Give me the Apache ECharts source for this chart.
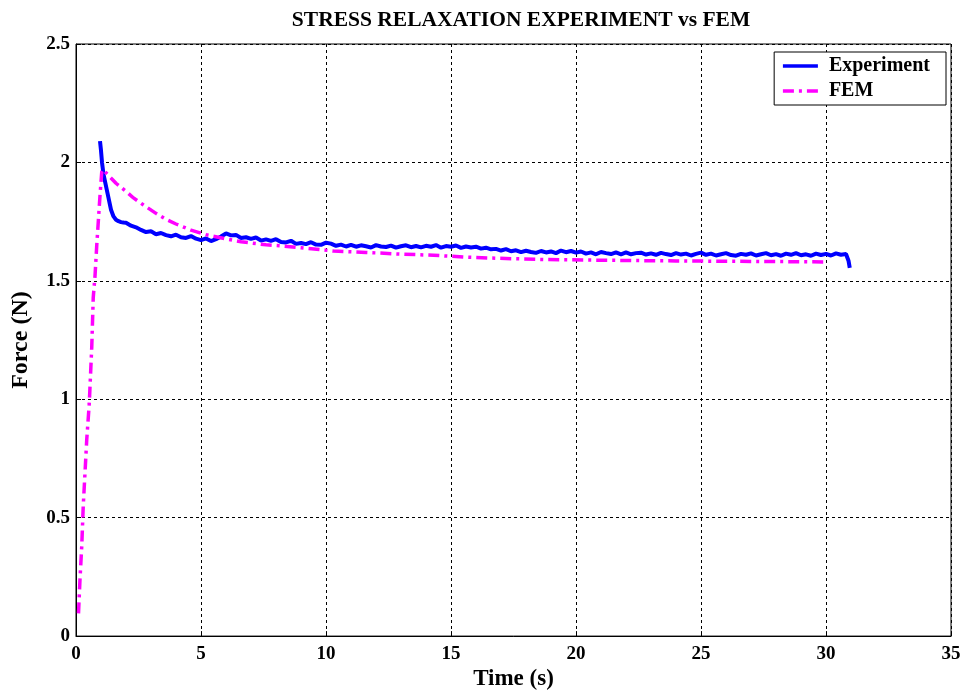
<!DOCTYPE html>
<html>
<head>
<meta charset="utf-8">
<script src="https://cdn.jsdelivr.net/npm/echarts@6/dist/echarts.min.js"></script>
<style>html,body{margin:0;padding:0;background:#fff;}#chart{width:966px;height:696px;}</style>
</head>
<body>
<div id="chart"></div>
<script>
const titleText = 'STRESS RELAXATION EXPERIMENT vs FEM';
const xTicks = [0, 5, 10, 15, 20, 25, 30, 35];
const yTicks = [0, 0.5, 1, 1.5, 2, 2.5];

const expTime = [
  0.96, 1.0, 1.04, 1.1, 1.2, 1.3, 1.4, 1.5, 1.6, 1.7, 1.8, 1.9,
  2.0, 2.2, 2.4, 2.6, 2.8,
  3.0, 3.2, 3.4, 3.6, 3.8,
  4.0, 4.2, 4.4, 4.6, 4.8,
  5.0, 5.2, 5.4, 5.6, 5.8,
  6.0, 6.2, 6.4, 6.6, 6.8,
  7.0, 7.2, 7.4, 7.6, 7.8,
  8.0, 8.2, 8.4, 8.6, 8.8,
  9.0, 9.2, 9.4, 9.6, 9.8,
  10.0, 10.2, 10.4, 10.6, 10.8,
  11.0, 11.2, 11.4, 11.6, 11.8,
  12.0, 12.2, 12.4, 12.6, 12.8,
  13.0, 13.2, 13.4, 13.6, 13.8,
  14.0, 14.2, 14.4, 14.6, 14.8,
  15.0, 15.2, 15.4, 15.6, 15.8,
  16.0, 16.2, 16.4, 16.6, 16.8,
  17.0, 17.2, 17.4, 17.6, 17.8,
  18.0, 18.2, 18.4, 18.6, 18.8,
  19.0, 19.2, 19.4, 19.6, 19.8,
  20.0, 20.2, 20.4, 20.6, 20.8,
  21.0, 21.2, 21.4, 21.6, 21.8,
  22.0, 22.2, 22.4, 22.6, 22.8,
  23.0, 23.2, 23.4, 23.6, 23.8,
  24.0, 24.2, 24.4, 24.6, 24.8,
  25.0, 25.2, 25.4, 25.6, 25.8,
  26.0, 26.2, 26.4, 26.6, 26.8,
  27.0, 27.2, 27.4, 27.6, 27.8,
  28.0, 28.2, 28.4, 28.6, 28.8,
  29.0, 29.2, 29.4, 29.6, 29.8,
  30.0, 30.2, 30.4, 30.6, 30.8,
  30.9, 30.95];
const expForce = [
  2.09, 2.05, 2.0, 1.95, 1.90, 1.85, 1.80, 1.772, 1.758, 1.752, 1.748, 1.746,
  1.745, 1.733, 1.726, 1.715, 1.706,
  1.709, 1.697, 1.702, 1.693, 1.688,
  1.695, 1.684, 1.681, 1.689, 1.678,
  1.672, 1.679, 1.668, 1.676, 1.687,
  1.700, 1.692, 1.694, 1.681, 1.684,
  1.677, 1.683, 1.670, 1.675, 1.669,
  1.676, 1.664, 1.662, 1.669, 1.656,
  1.660, 1.655, 1.663, 1.653, 1.652,
  1.661, 1.657, 1.648, 1.653, 1.645,
  1.652, 1.644, 1.650, 1.646, 1.641,
  1.651, 1.645, 1.643, 1.649, 1.640,
  1.646, 1.650, 1.642, 1.647, 1.641,
  1.648, 1.644, 1.651, 1.640, 1.647,
  1.644, 1.649, 1.639, 1.645, 1.641,
  1.644, 1.636, 1.640, 1.633, 1.635,
  1.628, 1.634, 1.625, 1.629, 1.621,
  1.627, 1.622, 1.618, 1.626, 1.620,
  1.624, 1.617, 1.628, 1.621, 1.626,
  1.619, 1.624, 1.615, 1.620, 1.612,
  1.622, 1.617, 1.613, 1.620, 1.612,
  1.620, 1.612, 1.617, 1.619, 1.611,
  1.616, 1.610, 1.618, 1.613, 1.609,
  1.617, 1.611, 1.615, 1.607, 1.614,
  1.619, 1.610, 1.615, 1.607, 1.612,
  1.617, 1.609, 1.606, 1.614, 1.610,
  1.616, 1.607, 1.612, 1.617, 1.608,
  1.613, 1.606, 1.615, 1.610, 1.617,
  1.608, 1.612, 1.606, 1.615, 1.609,
  1.614, 1.607, 1.616, 1.610, 1.613,
  1.585, 1.555];

const femTime = [0.1, 0.16, 0.23, 0.29, 0.36, 0.43, 0.53, 0.63, 0.69, 0.76, 0.83, 0.96, 1.03, 1.08,
  1.3, 1.6, 2.0, 2.3, 2.7, 3.2, 3.6, 4.0, 4.6, 5.2, 6.0, 6.6, 7.6, 8.3, 9.0,
  10.3, 11.6, 12.96, 14.3, 15.6, 16.96, 18.8, 21, 24, 27, 30];
const femForce = [0.096, 0.24, 0.38, 0.55, 0.69, 0.83, 0.98, 1.22, 1.43, 1.52, 1.65, 1.86, 1.96, 1.97,
  1.945, 1.912, 1.878, 1.85, 1.82, 1.785, 1.76, 1.74, 1.714, 1.695, 1.677, 1.665, 1.652, 1.647, 1.64,
  1.626, 1.62, 1.613, 1.608, 1.60, 1.595, 1.59, 1.587, 1.584, 1.582, 1.58];

const expData = expTime.map((t, i) => [t, expForce[i]]);
const femData = femTime.map((t, i) => [t, femForce[i]]);

const serif = '"Liberation Serif", "DejaVu Serif", serif';
const chart = echarts.init(document.getElementById('chart'));
chart.setOption({
  animation: false,
  backgroundColor: '#fff',
  title: {
    text: titleText, left: 516, top: 4, textAlign: 'center',
    textStyle: { fontFamily: serif, fontWeight: 'bold', fontSize: 21.5, color: '#000' }
  },
  grid: { left: 76, right: 15, top: 44, bottom: 55, show: true, borderColor: '#000', borderWidth: 1 },
  legend: {
    right: 20, top: 52, orient: 'vertical', backgroundColor: '#fff',
    borderColor: '#000', borderWidth: 1, padding: [4, 16, 4, 7], itemGap: 5,
    itemWidth: 35, itemHeight: 14,
    itemStyle: { opacity: 0 },
    lineStyle: { width: 3.5 },
    textStyle: { fontFamily: serif, fontWeight: 'bold', fontSize: 20, color: '#000', padding: [0, 0, 0, 6] },
    data: ['Experiment', 'FEM']
  },
  xAxis: {
    type: 'value', min: xTicks[0], max: xTicks[xTicks.length - 1], interval: 5,
    name: 'Time (s)', nameLocation: 'middle', nameGap: 31,
    nameTextStyle: { fontFamily: serif, fontWeight: 'bold', fontSize: 23, color: '#000' },
    axisLine: { show: true, lineStyle: { color: '#000', width: 1 } },
    axisTick: { show: true, inside: true, length: 5, lineStyle: { color: '#000' } },
    axisLabel: { fontFamily: serif, fontWeight: 'bold', fontSize: 19, color: '#000', margin: 8 },
    splitLine: { show: true, lineStyle: { color: '#000', type: [3, 3], width: 1 } }
  },
  yAxis: {
    type: 'value', min: yTicks[0], max: yTicks[yTicks.length - 1], interval: 0.5,
    name: 'Force (N)', nameLocation: 'middle', nameGap: 43, nameRotate: 90,
    nameTextStyle: { fontFamily: serif, fontWeight: 'bold', fontSize: 24, color: '#000' },
    axisLine: { show: true, lineStyle: { color: '#000', width: 1 } },
    axisTick: { show: true, inside: true, length: 5, lineStyle: { color: '#000' } },
    axisLabel: { fontFamily: serif, fontWeight: 'bold', fontSize: 19, color: '#000', margin: 6 },
    splitLine: { show: true, lineStyle: { color: '#000', type: [3, 3], width: 1 } }
  },
  series: [
    {
      name: 'Experiment', type: 'line', data: expData, showSymbol: false, symbol: 'none',
      lineStyle: { color: '#0000ff', width: 4 }, itemStyle: { color: '#0000ff' }, z: 3
    },
    {
      name: 'FEM', type: 'line', data: femData, showSymbol: false, symbol: 'none',
      lineStyle: { color: '#ff00ff', width: 3.5, type: [11, 5, 3, 5] }, itemStyle: { color: '#ff00ff' }, z: 4
    }
  ]
});
</script>
</body>
</html>
